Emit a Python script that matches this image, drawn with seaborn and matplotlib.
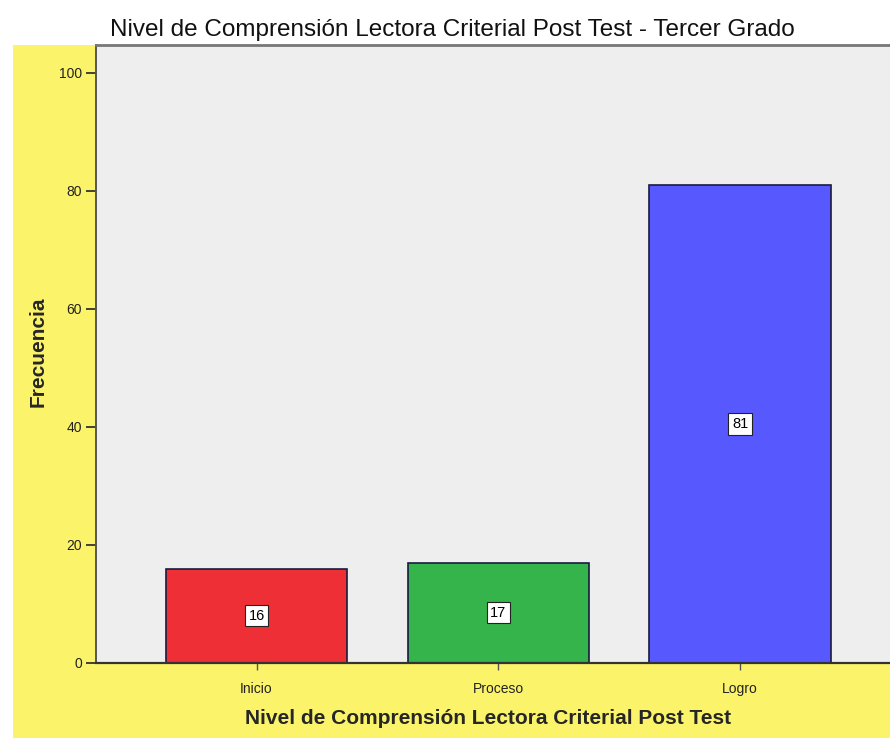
import matplotlib
matplotlib.use("Agg")
import matplotlib.pyplot as plt
from matplotlib.patches import Rectangle
import seaborn as sns
import pandas as pd

categories = ["Inicio", "Proceso", "Logro"]
frequencies = [16, 17, 81]
bar_colors = ["#EE3036", "#34B44A", "#5858FF"]
y_ticks = [0, 20, 40, 60, 80, 100]

title = "Nivel de Comprensión Lectora Criterial Post Test - Tercer Grado"
x_title = "Nivel de Comprensión Lectora Criterial Post Test"
y_title = "Frecuencia"

sns.set_theme(style="white")
plt.rcParams["font.family"] = ["Liberation Sans", "DejaVu Sans"]

df = pd.DataFrame({"nivel": categories, "frecuencia": frequencies})

fig = plt.figure(figsize=(8.9, 7.38), dpi=100)
fig.patch.set_facecolor("white")

# yellow chart-area frame behind the plot
fig.add_artist(Rectangle((13 / 890, 0), 1 - 13 / 890, 1 - 45 / 738,
                         transform=fig.transFigure, facecolor="#FBF46A",
                         edgecolor="none", zorder=0))

ax = fig.add_axes([96 / 890, 75 / 738, 1 - 96 / 890, (663 - 45) / 738])
ax.set_facecolor("#EEEEEE")

sns.barplot(data=df, x="nivel", y="frecuencia", hue="nivel",
            palette=bar_colors, order=categories, width=0.75,
            edgecolor="#1a1a40", linewidth=1.2, saturation=1,
            legend=False, ax=ax)

ax.set_xlim(-0.664, 2.62)
ax.set_ylim(0, 104.7)
ax.set_yticks(y_ticks)
ax.set_yticklabels([str(t) for t in y_ticks], fontsize=10, color="#222222")
ax.set_xticks(range(len(categories)))
ax.set_xticklabels(categories, fontsize=10, color="#222222")
ax.tick_params(axis="y", left=True, direction="out", length=7, width=1.3,
               color="#333333", pad=3)
ax.tick_params(axis="x", bottom=True, direction="out", length=5, width=1.0,
               color="#555555", pad=9)

ax.spines["right"].set_visible(False)
ax.spines["left"].set_color("#555555")
ax.spines["left"].set_linewidth(1.4)
ax.spines["bottom"].set_color("#333333")
ax.spines["bottom"].set_linewidth(1.6)
ax.spines["top"].set_color("#777777")
ax.spines["top"].set_linewidth(2.0)

# value labels in the middle of each bar
for i, v in enumerate(frequencies):
    ax.text(i, v / 2, str(v), ha="center", va="center", fontsize=10.5,
            color="black",
            bbox=dict(boxstyle="square,pad=0.25", facecolor="white",
                      edgecolor="#222222", linewidth=0.8))

ax.set_xlabel(x_title, fontsize=15, fontweight="bold")
ax.xaxis.set_label_coords((488 - 96) / 794, -(718 - 663) / 618)
ax.set_ylabel(y_title, fontsize=15, fontweight="bold")
ax.yaxis.set_label_coords(-(96 - 38) / 794, (663 - 352) / 618)
ax.xaxis.label.set_va("center")
ax.yaxis.label.set_va("center")

fig.text(452 / 890, 1 - 30 / 738, title, ha="center", va="center",
         fontsize=17.5, color="#111111")

fig.savefig("out.png", dpi=100)
